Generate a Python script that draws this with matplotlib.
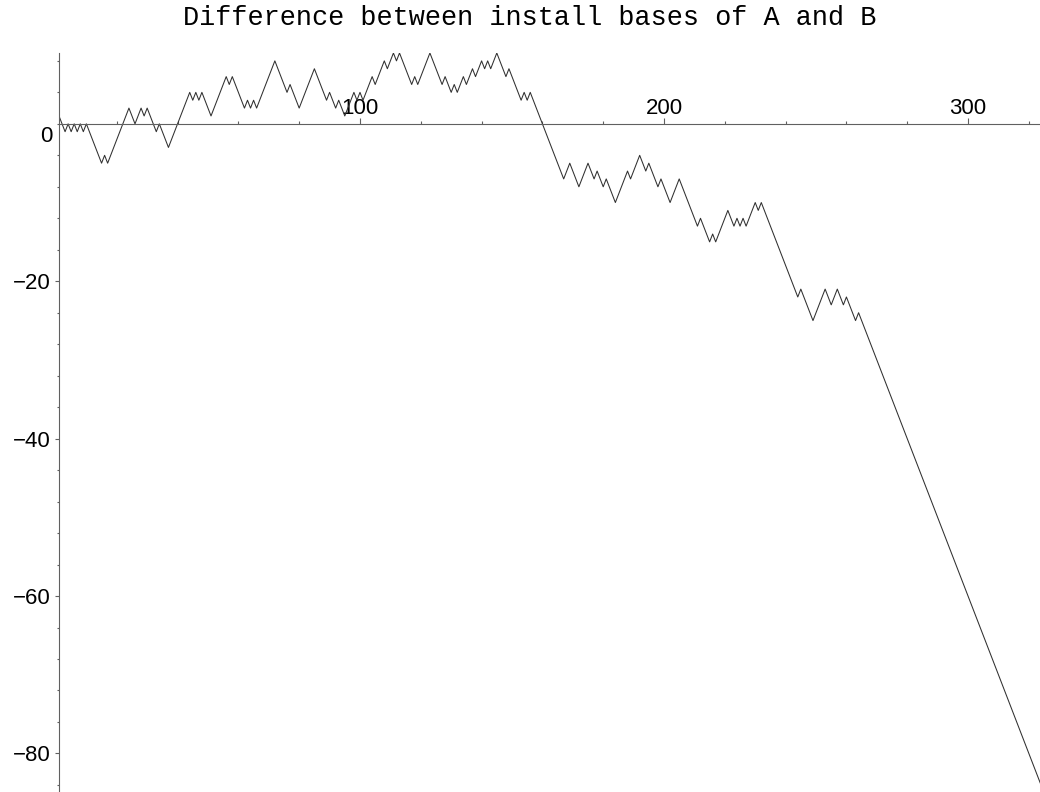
import matplotlib
matplotlib.use('Agg')
import matplotlib.pyplot as plt
from matplotlib.ticker import FixedLocator

# Turning points of the running difference (each step moves by +1 or -1)
steps = [1, 3, 4, 5, 6, 7, 8, 9, 10, 15, 16, 17, 24, 26, 28, 29, 30, 33, 34, 37,
         44, 45, 46, 47, 48, 51, 56, 57, 58, 62, 63, 64, 65, 66, 72, 76, 77, 80,
         85, 89, 90, 92, 93, 95, 98, 99, 100, 101, 104, 105, 108, 109, 111, 112,
         113, 117, 118, 119, 123, 127, 128, 130, 131, 132, 134, 135, 137, 138,
         140, 141, 142, 143, 145, 148, 149, 153, 154, 155, 156, 167, 169, 172,
         175, 177, 178, 180, 181, 184, 188, 189, 192, 194, 195, 198, 199, 202,
         205, 211, 212, 215, 216, 217, 221, 223, 224, 225, 226, 227, 230, 231,
         232, 244, 245, 249, 253, 255, 257, 259, 260, 263, 264, 324]
diff = [1, -1, 0, -1, 0, -1, 0, -1, 0, -5, -4, -5, 2, 0, 2, 1, 2, -1, 0, -3,
        4, 3, 4, 3, 4, 1, 6, 5, 6, 2, 3, 2, 3, 2, 8, 4, 5, 2,
        7, 3, 4, 2, 3, 1, 4, 3, 4, 3, 6, 5, 8, 7, 9, 8,
        9, 5, 6, 5, 9, 5, 6, 4, 5, 4, 6, 5, 7, 6,
        8, 7, 8, 7, 9, 6, 7, 3, 4, 3, 4, -7, -5, -8,
        -5, -7, -6, -8, -7, -10, -6, -7, -4, -6, -5, -8, -7, -10,
        -7, -13, -12, -15, -14, -15, -11, -13, -12, -13, -12, -13, -10, -11,
        -10, -22, -21, -25, -21, -23, -21, -23, -22, -25, -24, -84]

x_major = [100, 200, 300]
x_minor = list(range(20, 340, 20))
y_major = [-20, -40, -60, -80]
y_minor = list(range(-84, 12, 4))

fig = plt.figure(figsize=(10.4, 7.92), dpi=100)
ax = fig.add_axes([59 / 1040, 0, 982 / 1040, 739 / 792])

ax.plot(steps, diff, color='#303030', linewidth=0.75)

ax.set_xlim(1, 324)
ax.set_ylim(-84.9, 9)

axis_col = '#606060'
ax.spines['top'].set_visible(False)
ax.spines['right'].set_visible(False)
ax.spines['bottom'].set_position(('data', 0))
for side in ('left', 'bottom'):
    ax.spines[side].set_color(axis_col)
    ax.spines[side].set_linewidth(0.8)

tick_font = dict(family='Liberation Sans', size=16)

ax.xaxis.set_major_locator(FixedLocator(x_major))
ax.xaxis.set_minor_locator(FixedLocator(x_minor))
ax.set_xticklabels([str(v) for v in x_major], **tick_font)
ax.tick_params(axis='x', which='major', direction='in', length=4.5, width=0.8,
               color=axis_col, pad=-3.5)
ax.tick_params(axis='x', which='minor', direction='in', length=2.2, width=0.8,
               color=axis_col)
# labels sit above the axis line
for t in ax.xaxis.get_major_ticks():
    t.label1.set_verticalalignment('bottom')

ax.yaxis.set_major_locator(FixedLocator(y_major))
ax.yaxis.set_minor_locator(FixedLocator(y_minor))
ax.set_yticklabels([str(v).replace('-', '\u2212') for v in y_major], **tick_font)
ax.tick_params(axis='y', which='major', direction='out', length=3, width=0.8,
               color=axis_col, pad=3)
ax.tick_params(axis='y', which='minor', direction='out', length=1.6, width=0.8,
               color=axis_col)

# zero label is pushed below the horizontal axis
ax.annotate('0', xy=(0, 0), xycoords=('axes fraction', 'data'),
            xytext=(-5, -9), textcoords='offset points',
            ha='right', va='center', **tick_font)

fig.text(530 / 1040, 1 - 25 / 792, 'Difference between install bases of A and B',
         ha='center', va='baseline', family='Liberation Mono', size=19.4)

fig.savefig('out.png', dpi=100)
